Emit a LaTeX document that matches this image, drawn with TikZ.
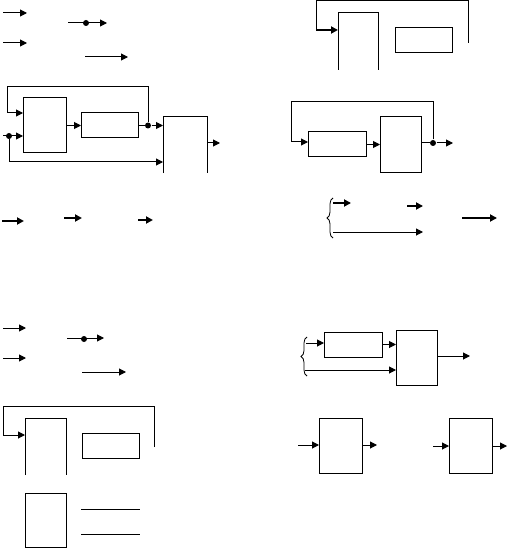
\documentclass[tikz,border=0pt]{standalone}
\usetikzlibrary{arrows.meta,decorations.pathreplacing}
\begin{document}
\begin{tikzpicture}[x=1pt,y=-1pt,line width=1pt,
  box/.style={draw,line width=1pt,inner sep=0pt,outer sep=0pt},
  arr/.style={-{Triangle[length=7pt,width=7pt]}},
  tarr/.style={-{Triangle[length=7pt,width=7pt]},line width=1.8pt},
  dot/.style={circle,fill,inner sep=0pt,minimum size=6pt},
  brc/.style={decorate,decoration={brace,amplitude=6pt},line width=0.8pt}]
\useasboundingbox (0,0) rectangle (509,548);
% ---- row 1 left: loose arrows
\coordinate (a1s) at (3,13);  \coordinate (a1e) at (27,13);
\draw[arr] (a1s) -- (a1e);
\coordinate (a2s) at (68,23); \node[dot] (d0) at (86,23) {}; \coordinate (a2e) at (107,23);
\draw[arr] (a2s) -- (a2e);
\coordinate (a3s) at (3,43);  \coordinate (a3e) at (27,43);
\draw[arr] (a3s) -- (a3e);
\coordinate (a4s) at (85,57); \coordinate (a4e) at (128,57);
\draw[arr] (a4s) -- (a4e);
% ---- row 1 right
\draw (338,70) -- (338,13) -- (378,13) -- (378,70);
\coordinate (ob1) at (338,30);
\coordinate (fbc) at (316,30);
\node[box,minimum width=57pt,minimum height=25pt] (R1) at (423.5,40.5) {};
\coordinate (fb1) at (468,43);
\draw (fb1) -- (468,1) -- (316,1) -- (fbc);
\draw[tarr] (fbc) -- (ob1);
% ---- row 2 left
\node[box,minimum width=43pt,minimum height=55pt] (A) at (44.5,125.5) {};
\node[box,minimum width=57pt,minimum height=25pt] (B) at (109.5,125.5) {};
\draw (163,173) -- (163,117) -- (207,117) -- (207,173);
\coordinate (Cin1) at (163,125.5);
\coordinate (Cin2) at (163,162);
\coordinate (Cout) at (220,143);
\node[dot] (d1) at (148,125.5) {};
\node[dot] (d2) at (9,136) {};
\draw[arr] (A.east) -- (B.west);
\draw (B.east) -- (d1);
\draw[arr] (d1) -- (Cin1);
\draw[arr] (d1) -- (148,87) -- (7,87) -- (7,113) -- (A.west |- 0,113);
\draw[arr] (3,136) -- (A.west |- d2);
\draw[arr] (d2) -- (9,162) -- (Cin2);
\draw[arr] (207,143) -- (Cout);
% ---- row 2 right
\node[box,minimum width=58pt,minimum height=25pt] (D) at (337,144.5) {};
\node[box,minimum width=41pt,minimum height=55pt] (E) at (400.5,144.5) {};
\node[dot] (d3) at (433,143) {};
\coordinate (Eout) at (453,143);
\draw[arr] (d3) -- (433,102) -- (291,102) -- (291,142) -- (D.west |- 0,142);
\draw[arr] (D.east) -- (E.west);
\draw (E.east |- d3) -- (d3);
\draw[arr] (d3) -- (Eout);
% ---- row 3 left
\draw[tarr] (2,221) -- (24,221);
\draw[tarr] (64,218) -- (82,218);
\draw[tarr] (138,220) -- (153,220);
% ---- row 3 right
\draw[brc] (333,238) -- (333,198);
\draw[tarr] (333,203) -- (351,203);
\draw[tarr] (407,206) -- (423,206);
\draw[arr] (333,232) -- (423,232);
\draw[tarr] (462,218) -- (497,218);
% ---- row 4 left
\draw[arr] (3,328) -- (26,328);
\node[dot] (d4) at (84,339) {};
\draw[arr] (67,338) -- (104,338);
\draw[arr] (3,358) -- (26,358);
\draw[arr] (82,372) -- (126,372);
% ---- row 4 right
\node[box,minimum width=58pt,minimum height=25pt] (F) at (353,344.5) {};
\node[box,minimum width=41pt,minimum height=55pt] (G) at (416.5,357.5) {};
\draw[brc] (307,376) -- (307,337);
\draw[arr] (306,343) -- (F.west |- 0,343);
\draw[arr] (F.east) -- (G.west |- F.east);
\draw[arr] (305,370) -- (G.west |- 0,370);
\coordinate (Gout) at (470,356);
\draw[arr] (G.east |- Gout) -- (Gout);
% ---- row 5 left
\draw (25,475) -- (25,418) -- (66,418) -- (66,475);
\node[box,minimum width=57pt,minimum height=25pt] (R2) at (110.5,445.5) {};
\coordinate (fb2) at (154,447);
\draw[arr] (fb2) -- (154,406) -- (3,406) -- (3,435) -- (25,435);
\node[box,minimum width=41pt,minimum height=54pt] (I) at (45.5,520) {};
\draw (81,509) -- (140,509);
\draw (81,534) -- (140,534);
% ---- row 5 right
\node[box,minimum width=43pt,minimum height=55pt] (J) at (340.5,445.5) {};
\node[box,minimum width=43pt,minimum height=55pt] (K) at (470.5,445.5) {};
\draw[arr] (298,445) -- (J.west |- 0,445);
\draw[arr] (J.east |- 0,445) -- (377,445);
\draw[arr] (433,446) -- (K.west |- 0,446);
\draw[arr] (K.east |- 0,446) -- (507,446);
\end{tikzpicture}
\end{document}
